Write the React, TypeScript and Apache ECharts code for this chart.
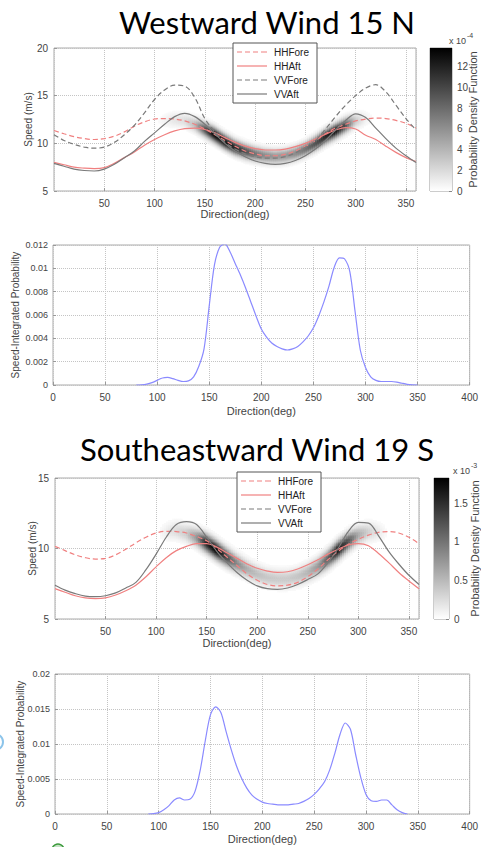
import React, { useEffect, useRef } from 'react';
import * as echarts from 'echarts';

const FONT = "'Liberation Sans', Arial, Helvetica, sans-serif";

// ---------- Panel 1: Westward Wind 15 N ----------
const DIRS = [0, 10, 20, 30, 40, 50, 60, 70, 80, 90, 100, 110, 120, 130, 140, 150, 160, 170, 180,
  190, 200, 210, 220, 230, 240, 250, 260, 270, 280, 290, 300, 310, 320, 330, 340, 350, 360];

const hhFore1 = [11.35, 11.0, 10.7, 10.5, 10.4, 10.5, 10.75, 11.2, 11.8, 12.25, 12.55, 12.6, 12.55, 12.35, 12.0, 11.5, 10.9, 10.3, 9.7,
  9.2, 8.9, 8.7, 8.7, 8.85, 9.2, 9.7, 10.3, 11.0, 11.6, 12.0, 12.35, 12.55, 12.65, 12.6, 12.4, 12.1, 11.6];
const hhAft1 = [8.0, 7.75, 7.5, 7.4, 7.35, 7.45, 7.9, 8.5, 9.1, 9.8, 10.4, 10.9, 11.3, 11.55, 11.6, 11.45, 11.1, 10.6, 10.1,
  9.7, 9.45, 9.3, 9.3, 9.4, 9.65, 10.0, 10.45, 10.95, 11.4, 11.65, 11.5, 10.85, 10.4, 9.7, 9.05, 8.5, 8.1];
const vvFore1 = [10.9, 10.3, 9.9, 9.6, 9.5, 9.6, 10.1, 10.9, 11.9, 13.2, 14.6, 15.6, 16.1, 16.0, 14.8, 12.6, 11.2, 10.1, 9.4,
  8.9, 8.6, 8.45, 8.45, 8.6, 9.0, 9.6, 10.3, 11.5, 12.8, 14.0, 15.0, 15.8, 16.15, 15.4, 14.0, 12.6, 11.4];
const vvAft1 = [7.9, 7.6, 7.3, 7.15, 7.1, 7.3, 7.8, 8.5, 9.2, 10.2, 11.1, 12.0, 12.8, 13.15, 12.8, 12.0, 11.0, 10.0, 9.2,
  8.6, 8.15, 7.9, 7.8, 7.9, 8.2, 8.7, 9.4, 10.3, 11.4, 12.4, 13.1, 12.7, 11.6, 10.5, 9.5, 8.7, 8.0];

// density band (PDF, x 1e-4)
const band1Dirs = [100, 110, 120, 130, 140, 150, 160, 170, 180, 190, 200, 210, 220, 230, 240, 250, 260, 270, 280, 290, 300, 310, 320];
const band1Center = [12.3, 12.4, 12.5, 12.4, 12.0, 11.5, 10.9, 10.2, 9.6, 9.2, 8.9, 8.7, 8.6, 8.7, 8.95, 9.4, 10.0, 10.7, 11.3, 11.9, 12.4, 12.6, 12.6];
const band1Peak = [0, 0.6, 1.4, 1.8, 3.5, 9.0, 13.6, 13.2, 11.5, 9.5, 7.5, 6.2, 5.6, 5.6, 6.2, 7.5, 9.5, 12.0, 12.8, 9.5, 3.0, 0.8, 0];
const PDF1_MAX = 13.8;

// ---------- Panel 2: speed-integrated probability ----------
const prob2Dirs = [80, 85, 90, 95, 100, 105, 110, 115, 120, 125, 130, 135, 140, 145, 150, 155, 160, 165, 170, 175, 180, 185, 190, 195,
  200, 205, 210, 215, 220, 225, 230, 235, 240, 245, 250, 255, 260, 265, 270, 275, 280, 285, 290, 295, 300, 305, 310, 315, 320, 325,
  330, 335, 340, 345, 350];
const prob2 = [0, 0.00002, 0.00008, 0.0002, 0.0004, 0.0006, 0.00065, 0.00055, 0.0004, 0.0003, 0.00035, 0.0007, 0.0016, 0.0031, 0.0068,
  0.0103, 0.0118, 0.0121, 0.0114, 0.0104, 0.0094, 0.0083, 0.0071, 0.0059, 0.0048, 0.0041, 0.0036, 0.0033, 0.0031, 0.003, 0.0031,
  0.0033, 0.0037, 0.0042, 0.0049, 0.0059, 0.0071, 0.0085, 0.0101, 0.0109, 0.0108, 0.0097, 0.0063, 0.003, 0.0015, 0.0007, 0.0004,
  0.0003, 0.0003, 0.0003, 0.00025, 0.00015, 0.00006, 0.00001, 0];

// ---------- Panel 3: Southeastward Wind 19 S ----------
const hhFore3 = [10.15, 9.85, 9.55, 9.35, 9.25, 9.3, 9.55, 9.95, 10.4, 10.8, 11.1, 11.22, 11.2, 11.1, 10.85, 10.55, 10.0, 9.4, 8.8,
  8.2, 7.75, 7.45, 7.35, 7.4, 7.6, 8.0, 8.55, 9.2, 9.8, 10.3, 10.65, 10.95, 11.15, 11.2, 11.1, 10.8, 10.35];
const hhAft3 = [7.15, 6.9, 6.65, 6.5, 6.45, 6.5, 6.7, 7.0, 7.4, 8.0, 8.7, 9.35, 9.85, 10.15, 10.35, 10.35, 10.1, 9.7, 9.3,
  8.9, 8.6, 8.4, 8.3, 8.35, 8.55, 8.85, 9.2, 9.6, 9.95, 10.25, 10.35, 10.2, 9.65, 9.0, 8.3, 7.7, 7.15];
const vvFore3: number[] = [];
const vvAft3 = [7.4, 7.05, 6.8, 6.62, 6.58, 6.65, 6.85, 7.2, 7.6, 8.5, 9.6, 10.8, 11.7, 11.9, 11.7, 10.8, 9.8, 9.0, 8.3,
  7.75, 7.35, 7.15, 7.1, 7.2, 7.45, 7.8, 8.2, 9.0, 10.0, 11.2, 11.85, 11.8, 10.9, 9.8, 8.9, 8.1, 7.45];

// density band (PDF, x 1e-3)
const band3Dirs = [100, 110, 120, 130, 140, 150, 160, 170, 180, 190, 200, 210, 220, 230, 240, 250, 260, 270, 280, 290, 300, 310, 320, 330];
const band3Center = [11.0, 11.2, 11.3, 11.1, 10.8, 10.4, 9.9, 9.4, 8.95, 8.55, 8.2, 7.95, 7.85, 7.85, 8.0, 8.3, 8.7, 9.25, 9.9, 10.5, 10.95, 11.2, 11.2, 11.1];
const band3Peak = [0, 0.12, 0.26, 0.36, 0.75, 1.6, 1.82, 1.3, 0.85, 0.58, 0.46, 0.4, 0.38, 0.38, 0.42, 0.52, 0.72, 1.15, 1.7, 1.25, 0.62, 0.34, 0.16, 0];
const PDF3_MAX = 1.83;

// ---------- Panel 4 ----------
const prob4Dirs = [90, 95, 100, 105, 110, 115, 120, 125, 130, 135, 140, 145, 150, 155, 160, 165, 170, 175, 180, 185, 190, 195, 200,
  205, 210, 215, 220, 225, 230, 235, 240, 245, 250, 255, 260, 265, 270, 275, 280, 285, 290, 295, 300, 305, 310, 315, 320, 325, 330,
  335, 340];
const prob4 = [0, 0.00005, 0.0002, 0.0006, 0.0012, 0.002, 0.0023, 0.002, 0.0021, 0.0032, 0.0062, 0.0105, 0.0142, 0.0153, 0.0145,
  0.0118, 0.0092, 0.0069, 0.0051, 0.0037, 0.0027, 0.0021, 0.0017, 0.0015, 0.0014, 0.0013, 0.0013, 0.0013, 0.0014, 0.0015, 0.0018,
  0.0022, 0.0028, 0.0036, 0.0046, 0.0063, 0.0087, 0.0114, 0.013, 0.0121, 0.0085, 0.0052, 0.0028, 0.0019, 0.0018, 0.002, 0.002,
  0.0013, 0.0006, 0.0002, 0];

// ---------- helpers ----------
const X_BIN = 2;
const xBins: string[] = [];
for (let d = X_BIN / 2; d < 360; d += X_BIN) xBins.push(String(d));

function yBinsFor(min: number, max: number, step: number) {
  const out: string[] = [];
  for (let s = min + step / 2; s < max; s += step) out.push(s.toFixed(2));
  return out;
}
const Y_STEP = 0.1;
const yBins1 = yBinsFor(5, 20, Y_STEP);
const yBins3 = yBinsFor(5, 15, Y_STEP);

function buildHeat(dirs: number[], center: number[], peak: number[], sigma: number, yMin: number, nY: number, vmax: number) {
  const cells: number[][] = [];
  for (let i = 0; i < xBins.length; i++) {
    const d = Number(xBins[i]);
    if (d < dirs[0] || d > dirs[dirs.length - 1]) continue;
    let k = 0;
    while (k < dirs.length - 2 && d > dirs[k + 1]) k++;
    const t = (d - dirs[k]) / (dirs[k + 1] - dirs[k]);
    const c = center[k] + (center[k + 1] - center[k]) * t;
    const p = peak[k] + (peak[k + 1] - peak[k]) * t;
    for (let j = 0; j < nY; j++) {
      const s = yMin + Y_STEP * (j + 0.5);
      const v = p * Math.exp(-0.5 * ((s - c) / sigma) ** 2);
      if (v > vmax * 0.02) cells.push([i, j, +v.toFixed(4)]);
    }
  }
  return cells;
}

function pairs(xs: number[], ys: number[]) {
  return ys.map((y, i) => [xs[i], y]);
}

const RED = '#f08080';
const GRAY = '#7a7a7a';

function lineS(name: string, ys: number[], color: string, dashed: boolean, xi: number, yi: number) {
  return {
    type: 'line', name, xAxisIndex: xi, yAxisIndex: yi, data: pairs(DIRS, ys),
    symbol: 'none', smooth: 0.35, silent: true, z: 3,
    lineStyle: { color, width: 1.2, type: dashed ? [5, 3] : 'solid' },
    itemStyle: { color },
  };
}

const labelStyle = { fontSize: 10, color: '#444', fontFamily: FONT };
const nameStyle = { fontSize: 11, color: '#444', fontFamily: FONT };
const split = { show: true, lineStyle: { type: 'dotted', color: '#c4c4c4', width: 1 } };
const tick = { show: true, inside: true, length: 3, lineStyle: { color: '#999' } };

function valAxis(gridIndex: number, min: number, max: number, interval: number, extra: any = {}) {
  return {
    type: 'value', gridIndex, min, max, interval,
    axisLine: { show: false }, axisTick: tick, splitLine: split,
    axisLabel: { ...labelStyle, margin: 6 },
    nameTextStyle: nameStyle,
    nameMoveOverlap: false,
    ...extra,
  };
}
function catAxis(gridIndex: number, data: string[]) {
  return { type: 'category', gridIndex, data, show: false, boundaryGap: true };
}

const gridBase = { show: true, borderColor: '#aaaaaa', borderWidth: 1, backgroundColor: 'transparent', containLabel: false };

function cbGradient() {
  return new echarts.graphic.LinearGradient(0, 0, 0, 1, [
    { offset: 0, color: '#000000' },
    { offset: 1, color: '#ffffff' },
  ]);
}

const DASH_ICON = 'path://M0,0h5v1.2h-5z M8,0h5v1.2h-5z M16,0h5v1.2h-5z M24,0h6v1.2h-6z';
const SOLID_ICON = 'path://M0,0h30v1.2h-30z';
const legendNames = ['HHFore', 'HHAft', 'VVFore', 'VVAft'];
const legendDashed = [true, false, true, false];
function legendAt(left: number, top: number) {
  return {
    left, top, orient: 'vertical', selectedMode: false,
    data: legendNames.map((n, i) => ({ name: n, icon: legendDashed[i] ? DASH_ICON : SOLID_ICON })),
    itemWidth: 30, itemHeight: 12, itemGap: 4, padding: [4, 8, 4, 4],
    symbolKeepAspect: true,
    itemStyle: { borderWidth: 0 },
    borderColor: '#555', borderWidth: 1, backgroundColor: '#ffffff',
    textStyle: { fontSize: 10, color: '#222', fontFamily: FONT, padding: [0, 0, 0, 2] },
  };
}

export default function App() {
  const ref = useRef<HTMLDivElement>(null);
  useEffect(() => {
    if (!ref.current) return;
    const chart = echarts.init(ref.current, undefined, { renderer: 'svg' });
    const heat1 = buildHeat(band1Dirs, band1Center, band1Peak, 0.5, 5, yBins1.length, PDF1_MAX);
    const heat3 = buildHeat(band3Dirs, band3Center, band3Peak, 0.42, 5, yBins3.length, PDF3_MAX);

    const cbAxis = (grid: number, max: number, interval: number, gap: number) => valAxis(grid, 0, max, interval, {
      position: 'right', splitLine: { show: false },
      axisTick: { show: true, inside: true, length: 3, lineStyle: { color: '#888' } },
      axisLabel: { ...labelStyle, margin: 5, showMaxLabel: false },
      name: 'Probability Density Function', nameLocation: 'middle', nameRotate: 90, nameGap: gap,
    });
    const probLabel = { ...labelStyle, fontSize: 9, margin: 5 };

    const option: any = {
      animation: false,
      backgroundColor: '#ffffff',
      grid: [
        { ...gridBase, left: 54, top: 48, width: 362, height: 143 },
        { ...gridBase, left: 430, top: 48, width: 22, height: 143, borderColor: '#999' },
        { ...gridBase, left: 53, top: 245, width: 424, height: 140 },
        { ...gridBase, left: 55, top: 478, width: 364, height: 141 },
        { ...gridBase, left: 434, top: 478, width: 20, height: 141, borderColor: '#999' },
        { ...gridBase, left: 55, top: 674, width: 427, height: 140 },
      ],
      xAxis: [
        valAxis(0, 0, 360, 50, { axisLabel: { ...labelStyle, margin: 7, showMinLabel: false, showMaxLabel: false }, name: 'Direction(deg)', nameLocation: 'middle', nameGap: 17 }),
        catAxis(0, xBins),
        { type: 'category', gridIndex: 1, data: ['cb'], show: false },
        valAxis(2, 0, 400, 50, { axisLabel: { ...labelStyle, margin: 7 }, name: 'Direction(deg)', nameLocation: 'middle', nameGap: 20 }),
        valAxis(3, 0, 360, 50, { axisLabel: { ...labelStyle, margin: 7, showMinLabel: false, showMaxLabel: false }, name: 'Direction(deg)', nameLocation: 'middle', nameGap: 18 }),
        catAxis(3, xBins),
        { type: 'category', gridIndex: 4, data: ['cb'], show: false },
        valAxis(5, 0, 400, 50, { axisLabel: { ...labelStyle, margin: 7 }, name: 'Direction(deg)', nameLocation: 'middle', nameGap: 19 }),
      ],
      yAxis: [
        valAxis(0, 5, 20, 5, { name: 'Speed (m/s)', nameLocation: 'middle', nameRotate: 90, nameGap: 21, nameTextStyle: { ...nameStyle, fontSize: 10 } }),
        catAxis(0, yBins1),
        cbAxis(1, PDF1_MAX, 2, 15),
        valAxis(2, 0, 0.012, 0.002, { axisLabel: probLabel, name: 'Speed-Integrated Probability', nameLocation: 'middle', nameRotate: 90, nameGap: 33, nameTextStyle: { ...nameStyle, fontSize: 10 } }),
        valAxis(3, 5, 15, 5, { name: 'Speed (m/s)', nameLocation: 'middle', nameRotate: 90, nameGap: 18, nameTextStyle: { ...nameStyle, fontSize: 10 } }),
        catAxis(3, yBins3),
        cbAxis(4, PDF3_MAX, 0.5, 20),
        valAxis(5, 0, 0.02, 0.005, { axisLabel: probLabel, name: 'Speed-Integrated Probability', nameLocation: 'middle', nameRotate: 90, nameGap: 30, nameTextStyle: { ...nameStyle, fontSize: 10 } }),
      ],
      visualMap: [
        { type: 'continuous', show: false, seriesIndex: 0, min: 0, max: PDF1_MAX, inRange: { color: ['#ffffff', '#000000'] } },
        { type: 'continuous', show: false, seriesIndex: 7, min: 0, max: PDF3_MAX, inRange: { color: ['#ffffff', '#000000'] } },
      ],
      legend: [legendAt(233, 43), legendAt(237, 472)],
      series: [
        { type: 'heatmap', xAxisIndex: 1, yAxisIndex: 1, data: heat1, z: 1, silent: true, progressive: 0 },
        lineS('HHFore', hhFore1, RED, true, 0, 0),
        lineS('HHAft', hhAft1, RED, false, 0, 0),
        lineS('VVFore', vvFore1, GRAY, true, 0, 0),
        lineS('VVAft', vvAft1, GRAY, false, 0, 0),
        { type: 'bar', xAxisIndex: 2, yAxisIndex: 2, data: [PDF1_MAX], barWidth: '100%', silent: true, itemStyle: { color: cbGradient() } },
        {
          type: 'line', xAxisIndex: 3, yAxisIndex: 3, data: pairs(prob2Dirs, prob2), symbol: 'none', smooth: 0.3, silent: true,
          lineStyle: { color: '#8a8aff', width: 1.2 },
        },
        { type: 'heatmap', xAxisIndex: 5, yAxisIndex: 5, data: heat3, z: 1, silent: true, progressive: 0 },
        lineS('HHFore', hhFore3, RED, true, 4, 4),
        lineS('HHAft', hhAft3, RED, false, 4, 4),
        { ...lineS('VVFore', vvFore3, GRAY, true, 4, 4), data: [] },
        lineS('VVAft', vvAft3, GRAY, false, 4, 4),
        { type: 'bar', xAxisIndex: 6, yAxisIndex: 6, data: [PDF3_MAX], barWidth: '100%', silent: true, itemStyle: { color: cbGradient() } },
        {
          type: 'line', xAxisIndex: 7, yAxisIndex: 7, data: pairs(prob4Dirs, prob4), symbol: 'none', smooth: 0.3, silent: true,
          lineStyle: { color: '#8a8aff', width: 1.2 },
        },
      ],
      graphic: [
        { type: 'text', x: 267, y: 22, style: { text: 'Westward Wind 15 N', fontSize: 31, fontFamily: 'Lato, "Open Sans", sans-serif', fill: '#000', align: 'center', verticalAlign: 'middle' } },
        { type: 'text', x: 257, y: 449, style: { text: 'Southeastward Wind 19 S', fontSize: 31, fontFamily: 'Lato, "Open Sans", sans-serif', fill: '#000', align: 'center', verticalAlign: 'middle' } },
        { type: 'text', x: 449, y: 41, style: { text: 'x 10', fontSize: 9, fontFamily: FONT, fill: '#444', align: 'left', verticalAlign: 'middle' } },
        { type: 'text', x: 467, y: 35, style: { text: '-4', fontSize: 7, fontFamily: FONT, fill: '#444', align: 'left', verticalAlign: 'middle' } },
        { type: 'text', x: 453, y: 471, style: { text: 'x 10', fontSize: 9, fontFamily: FONT, fill: '#444', align: 'left', verticalAlign: 'middle' } },
        { type: 'text', x: 471, y: 465, style: { text: '-3', fontSize: 7, fontFamily: FONT, fill: '#444', align: 'left', verticalAlign: 'middle' } },
        { type: 'circle', shape: { cx: -5, cy: 742, r: 8 }, style: { fill: 'none', stroke: '#8cc4ea', lineWidth: 2 } },
        { type: 'circle', shape: { cx: 58, cy: 850, r: 6 }, style: { fill: 'rgba(90,170,90,0.35)', stroke: '#3c9a3c', lineWidth: 1.5 } },
      ],
    };
    chart.setOption(option);
    return () => chart.dispose();
  }, []);
  return (
    <div
      ref={ref}
      style={{ position: 'absolute', left: 0, top: 0, width: 481, height: 847, background: '#fff' }}
    />
  );
}
